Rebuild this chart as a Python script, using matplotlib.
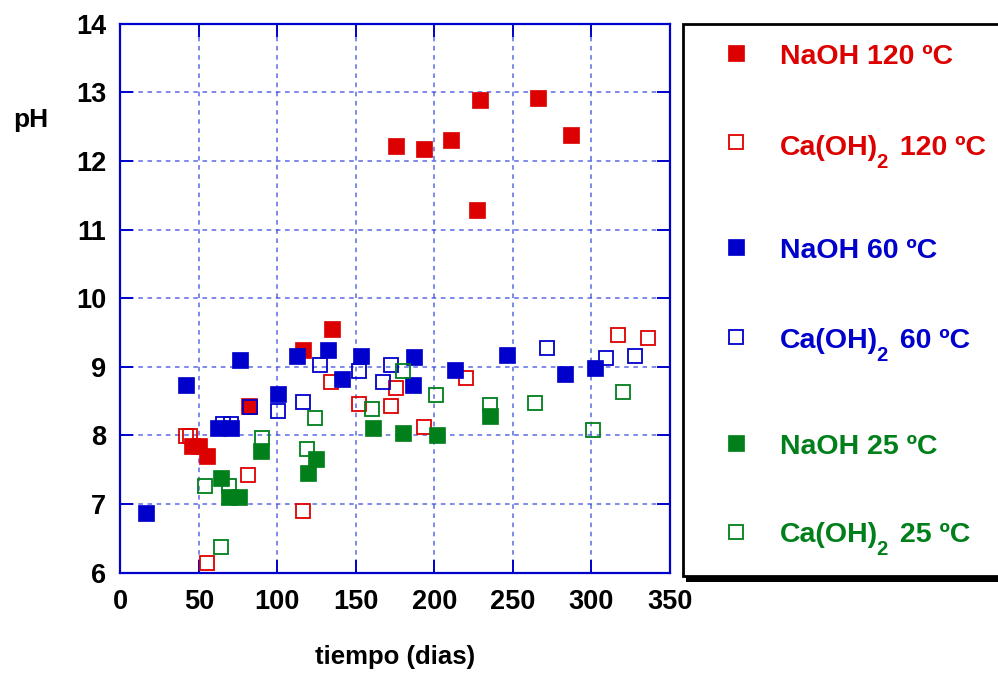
import matplotlib
matplotlib.use("Agg")
import matplotlib.pyplot as plt
from matplotlib.patches import Rectangle

plt.rcParams['font.family'] = ['Liberation Sans', 'DejaVu Sans']
plt.rcParams['font.weight'] = 'bold'

# ---- data (tiempo in days, pH) ----
naoh120_x = [45.6, 50.0, 55.2, 81.7, 116.3, 134.6, 175.3, 193.1, 210.3, 227.3, 229.2, 266.1, 287.1]
naoh120_y = [7.84, 7.84, 7.70, 8.43, 9.24, 9.55, 12.22, 12.17, 12.30, 11.29, 12.89, 12.92, 12.38]

caoh120_x = [41.8, 44.4, 55.0, 81.1, 116.3, 133.9, 151.9, 172.3, 175.3, 193.3, 220.0, 316.8, 335.7]
caoh120_y = [7.99, 7.99, 6.14, 7.42, 6.90, 8.78, 8.46, 8.43, 8.69, 8.13, 8.83, 9.46, 9.42]

naoh60_x = [16.6, 41.6, 62.2, 70.5, 76.2, 100.2, 112.2, 132.4, 141.3, 153.2, 186.3, 187.1, 212.9, 246.1, 282.9, 302.0]
naoh60_y = [6.87, 8.74, 8.11, 8.11, 9.10, 8.60, 9.16, 9.24, 8.82, 9.16, 8.74, 9.15, 8.95, 9.17, 8.90, 8.99]

caoh60_x = [65.2, 70.5, 82.6, 100.2, 116.1, 127.1, 152.1, 167.2, 172.3, 271.6, 309.2, 327.8]
caoh60_y = [8.17, 8.17, 8.41, 8.36, 8.49, 9.03, 8.94, 8.78, 9.03, 9.27, 9.13, 9.16]

naoh25_x = [64.3, 69.4, 75.4, 89.4, 119.3, 124.4, 160.7, 180.2, 201.4, 235.3]
naoh25_y = [7.38, 7.11, 7.11, 7.77, 7.45, 7.66, 8.11, 8.03, 8.00, 8.29]

caoh25_x = [54.1, 64.1, 69.0, 90.0, 119.0, 124.0, 160.2, 180.1, 201.0, 235.1, 264.0, 300.9, 320.0]
caoh25_y = [7.26, 6.37, 7.26, 7.97, 7.80, 8.26, 8.38, 8.94, 8.59, 8.44, 8.47, 8.08, 8.63]

x_ticks = [0, 50, 100, 150, 200, 250, 300, 350]
y_ticks = [6, 7, 8, 9, 10, 11, 12, 13, 14]

# legend labels: (main part, subscript, rest)
legend_labels = [('NaOH 120 ºC', '', ''), ('Ca(OH)', '2', ' 120 ºC'), ('NaOH 60 ºC', '', ''),
                 ('Ca(OH)', '2', ' 60 ºC'), ('NaOH 25 ºC', '', ''), ('Ca(OH)', '2', ' 25 ºC')]

RED = '#DD0000'
BLUE = '#0000CC'
GREEN = '#007F1A'
AXBLUE = '#0000CC'

W, H = 998, 673
fig = plt.figure(figsize=(W / 100, H / 100), dpi=100)
ax = fig.add_axes([120.3 / W, 1 - 572.7 / H, (670 - 120.3) / W, (572.7 - 23.7) / H])

ax.set_xlim(0, 350)
ax.set_ylim(6, 14)
ax.set_xticks(x_ticks)
ax.set_yticks(y_ticks)
ax.grid(True, color='#3344DD', linestyle=(0, (3, 3)), linewidth=1.1, alpha=0.8)
ax.set_axisbelow(True)
for s in ax.spines.values():
    s.set_color(AXBLUE)
    s.set_linewidth(1.6)
ax.tick_params(direction='in', length=9.5, width=1.4, color=AXBLUE,
               top=True, right=True, labelsize=19.5)
ax.tick_params(axis='x', pad=12)
ax.tick_params(axis='y', pad=10)
for lab in ax.get_xticklabels() + ax.get_yticklabels():
    lab.set_fontweight('bold')

ms_f, ms_o = 11, 10.3
series = [
    (caoh120_x, caoh120_y, RED, False),
    (naoh120_x, naoh120_y, RED, True),
    (naoh60_x, naoh60_y, BLUE, True),
    (caoh60_x, caoh60_y, BLUE, False),
    (caoh25_x, caoh25_y, GREEN, False),
    (naoh25_x, naoh25_y, GREEN, True),
]
for xs, ys, c, filled in series:
    if filled:
        ax.plot(xs, ys, 's', color=c, markersize=ms_f, markeredgewidth=0.5,
                markeredgecolor=c, clip_on=False)
    else:
        ax.plot(xs, ys, 's', markerfacecolor='none', markeredgecolor=c,
                markersize=ms_o, markeredgewidth=1.3, clip_on=False)

def fx(px):
    return px / W

def fy(py):
    return 1 - py / H

fig.text(fx(13), fy(127), 'pH', fontsize=19, fontweight='bold', ha='left', va='baseline')
fig.text(fx(395), fy(664), 'tiempo (dias)', fontsize=18.5, fontweight='bold', ha='center', va='baseline')

# legend box with shadow
fig.patches.append(Rectangle((fx(686), fy(582)), fx(1020) - fx(686), fy(29) - fy(582),
                             transform=fig.transFigure, facecolor='black', edgecolor='none', zorder=1))
fig.patches.append(Rectangle((fx(683), fy(576)), fx(1015) - fx(683), fy(24) - fy(576),
                             transform=fig.transFigure, facecolor='white', edgecolor='black',
                             linewidth=2, zorder=2))

leg_marker_y = [53.3, 142.3, 247.3, 337.3, 443.3, 532.3]
leg_base_y = [64, 155, 258.3, 348.3, 454, 541.7]
leg_colors = [RED, RED, BLUE, BLUE, GREEN, GREEN]
leg_filled = [True, False, True, False, True, False]
renderer = fig.canvas.get_renderer()
for (main, sub, rest), my, by, c, f in zip(legend_labels, leg_marker_y, leg_base_y, leg_colors, leg_filled):
    if f:
        fig.lines.append(plt.Line2D([fx(736)], [fy(my)], marker='s', color=c, markersize=ms_f,
                                    markeredgewidth=0.5, transform=fig.transFigure, zorder=3))
    else:
        fig.lines.append(plt.Line2D([fx(736)], [fy(my)], marker='s', markerfacecolor='none',
                                    markeredgecolor=c, markersize=ms_o, markeredgewidth=1.3,
                                    transform=fig.transFigure, zorder=3))
    t = fig.text(fx(780), fy(by), main, color=c, fontsize=20.5, fontweight='bold',
                 ha='left', va='baseline', zorder=3)
    if sub:
        bb = t.get_window_extent(renderer)
        x1 = bb.x1 - 1.5
        t2 = fig.text(x1 / W, fy(by + 13), sub, color=c, fontsize=14.5, fontweight='bold',
                      ha='left', va='baseline', zorder=3)
        bb2 = t2.get_window_extent(renderer)
        fig.text((bb2.x1 + 4) / W, fy(by), rest, color=c, fontsize=20.5, fontweight='bold',
                 ha='left', va='baseline', zorder=3)

fig.savefig('out.png', dpi=100)
